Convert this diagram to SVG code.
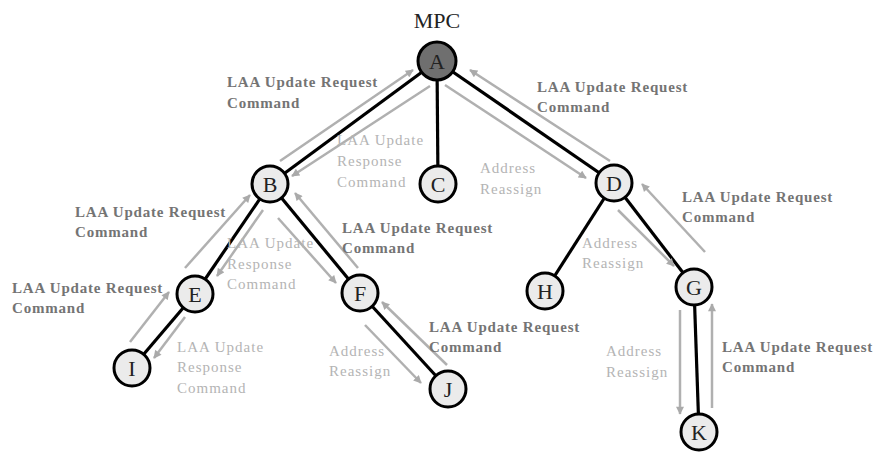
<svg xmlns="http://www.w3.org/2000/svg" width="874" height="452" viewBox="0 0 874 452">
  <defs>
    <marker id="head" viewBox="0 0 10 10" refX="9" refY="5" markerWidth="9" markerHeight="8" markerUnits="userSpaceOnUse" orient="auto">
      <path d="M0,0 L10,5 L0,10 z" fill="#aaaaaa"/>
    </marker>
  </defs>
  <style>
    .edge { stroke: #000; stroke-width: 3.2; fill: none; }
    .msg { stroke: #b0b0b0; stroke-width: 2.5; fill: none; marker-end: url(#head); }
    .node circle { fill: #ebebeb; stroke: #000; stroke-width: 3; }
    .node.root circle { fill: #6f6f6f; }
    .node text { font-family: "Liberation Serif", "Times New Roman", serif; font-size: 22px; fill: #222; text-anchor: middle; }
    .req { font-family: "Liberation Serif", "Times New Roman", serif; font-size: 15px; font-weight: bold; fill: #747474; letter-spacing: 0.8px; }
    .rsp { font-family: "Liberation Serif", "Times New Roman", serif; font-size: 15px; fill: #b4b4b4; letter-spacing: 1px; }
    .title { font-family: "Liberation Serif", "Times New Roman", serif; font-size: 22px; fill: #222; text-anchor: middle; }
  </style>
  <rect width="874" height="452" fill="#ffffff"/>

  <!-- tree links -->
  <g id="edges">
    <line class="edge" x1="437" y1="61" x2="270" y2="184"/>
    <line class="edge" x1="437" y1="61" x2="438" y2="184"/>
    <line class="edge" x1="437" y1="61" x2="614" y2="183"/>
    <line class="edge" x1="270" y1="184" x2="195" y2="294"/>
    <line class="edge" x1="270" y1="184" x2="360" y2="293"/>
    <line class="edge" x1="195" y1="294" x2="132" y2="368"/>
    <line class="edge" x1="360" y1="293" x2="448" y2="389"/>
    <line class="edge" x1="614" y1="183" x2="545" y2="291"/>
    <line class="edge" x1="614" y1="183" x2="694" y2="287"/>
    <line class="edge" x1="694" y1="287" x2="699" y2="432"/>
  </g>

  <!-- message arrows -->
  <g id="messages">
    <line class="msg" x1="280" y1="161" x2="413" y2="70"/>
    <line class="msg" x1="430" y1="86" x2="292" y2="176"/>
    <line class="msg" x1="610" y1="161" x2="470" y2="70"/>
    <line class="msg" x1="445" y1="85" x2="586" y2="178"/>
    <line class="msg" x1="185" y1="268" x2="250" y2="195"/>
    <line class="msg" x1="263" y1="210" x2="217" y2="276"/>
    <line class="msg" x1="130" y1="342" x2="169" y2="292"/>
    <line class="msg" x1="185" y1="317" x2="154" y2="358"/>
    <line class="msg" x1="358" y1="268" x2="295" y2="193"/>
    <line class="msg" x1="278" y1="218" x2="336" y2="283"/>
    <line class="msg" x1="447" y1="365" x2="382" y2="302"/>
    <line class="msg" x1="365" y1="325" x2="421" y2="383"/>
    <line class="msg" x1="705" y1="252" x2="642" y2="184"/>
    <line class="msg" x1="618" y1="210" x2="674" y2="266"/>
    <line class="msg" x1="680" y1="310" x2="680" y2="414"/>
    <line class="msg" x1="712" y1="408" x2="712" y2="304"/>
  </g>

  <!-- nodes -->
  <text class="title" x="437" y="28">MPC</text>
  <g id="node-A" class="node root"><circle cx="437" cy="61" r="19"/><text x="437" y="69">A</text></g>
  <g id="node-B" class="node"><circle cx="270" cy="184" r="18"/><text x="270" y="192">B</text></g>
  <g id="node-C" class="node"><circle cx="438" cy="184" r="18"/><text x="438" y="192">C</text></g>
  <g id="node-D" class="node"><circle cx="614" cy="183" r="18"/><text x="614" y="191">D</text></g>
  <g id="node-E" class="node"><circle cx="195" cy="294" r="18"/><text x="195" y="302">E</text></g>
  <g id="node-F" class="node"><circle cx="360" cy="293" r="18"/><text x="360" y="301">F</text></g>
  <g id="node-H" class="node"><circle cx="545" cy="291" r="18"/><text x="545" y="299">H</text></g>
  <g id="node-G" class="node"><circle cx="694" cy="287" r="18"/><text x="694" y="295">G</text></g>
  <g id="node-I" class="node"><circle cx="132" cy="368" r="18"/><text x="132" y="376">I</text></g>
  <g id="node-J" class="node"><circle cx="448" cy="389" r="18"/><text x="448" y="397">J</text></g>
  <g id="node-K" class="node"><circle cx="699" cy="432" r="18"/><text x="699" y="440">K</text></g>

  <!-- message labels -->
  <g id="labels">
    <text class="req" x="227" y="87">LAA Update Request<tspan x="227" y="108">Command</tspan></text>
    <text class="rsp" x="337" y="145">LAA Update<tspan x="337" y="166">Response</tspan><tspan x="337" y="187">Command</tspan></text>
    <text class="req" x="537" y="92">LAA Update Request<tspan x="537" y="112">Command</tspan></text>
    <text class="rsp" x="480" y="173">Address<tspan x="480" y="194">Reassign</tspan></text>
    <text class="req" x="682" y="202">LAA Update Request<tspan x="682" y="222">Command</tspan></text>
    <text class="req" x="75" y="217">LAA Update Request<tspan x="75" y="237">Command</tspan></text>
    <text class="rsp" x="227" y="248">LAA Update<tspan x="227" y="269">Response</tspan><tspan x="227" y="289">Command</tspan></text>
    <text class="req" x="12" y="293">LAA Update Request<tspan x="12" y="313">Command</tspan></text>
    <text class="rsp" x="177" y="352">LAA Update<tspan x="177" y="372">Response</tspan><tspan x="177" y="393">Command</tspan></text>
    <text class="req" x="342" y="233">LAA Update Request<tspan x="342" y="253">Command</tspan></text>
    <text class="req" x="429" y="332">LAA Update Request<tspan x="429" y="352">Command</tspan></text>
    <text class="rsp" x="329" y="356">Address<tspan x="329" y="376">Reassign</tspan></text>
    <text class="rsp" x="582" y="248">Address<tspan x="582" y="268">Reassign</tspan></text>
    <text class="rsp" x="606" y="356">Address<tspan x="606" y="377">Reassign</tspan></text>
    <text class="req" x="722" y="352">LAA Update Request<tspan x="722" y="372">Command</tspan></text>
  </g>
</svg>
